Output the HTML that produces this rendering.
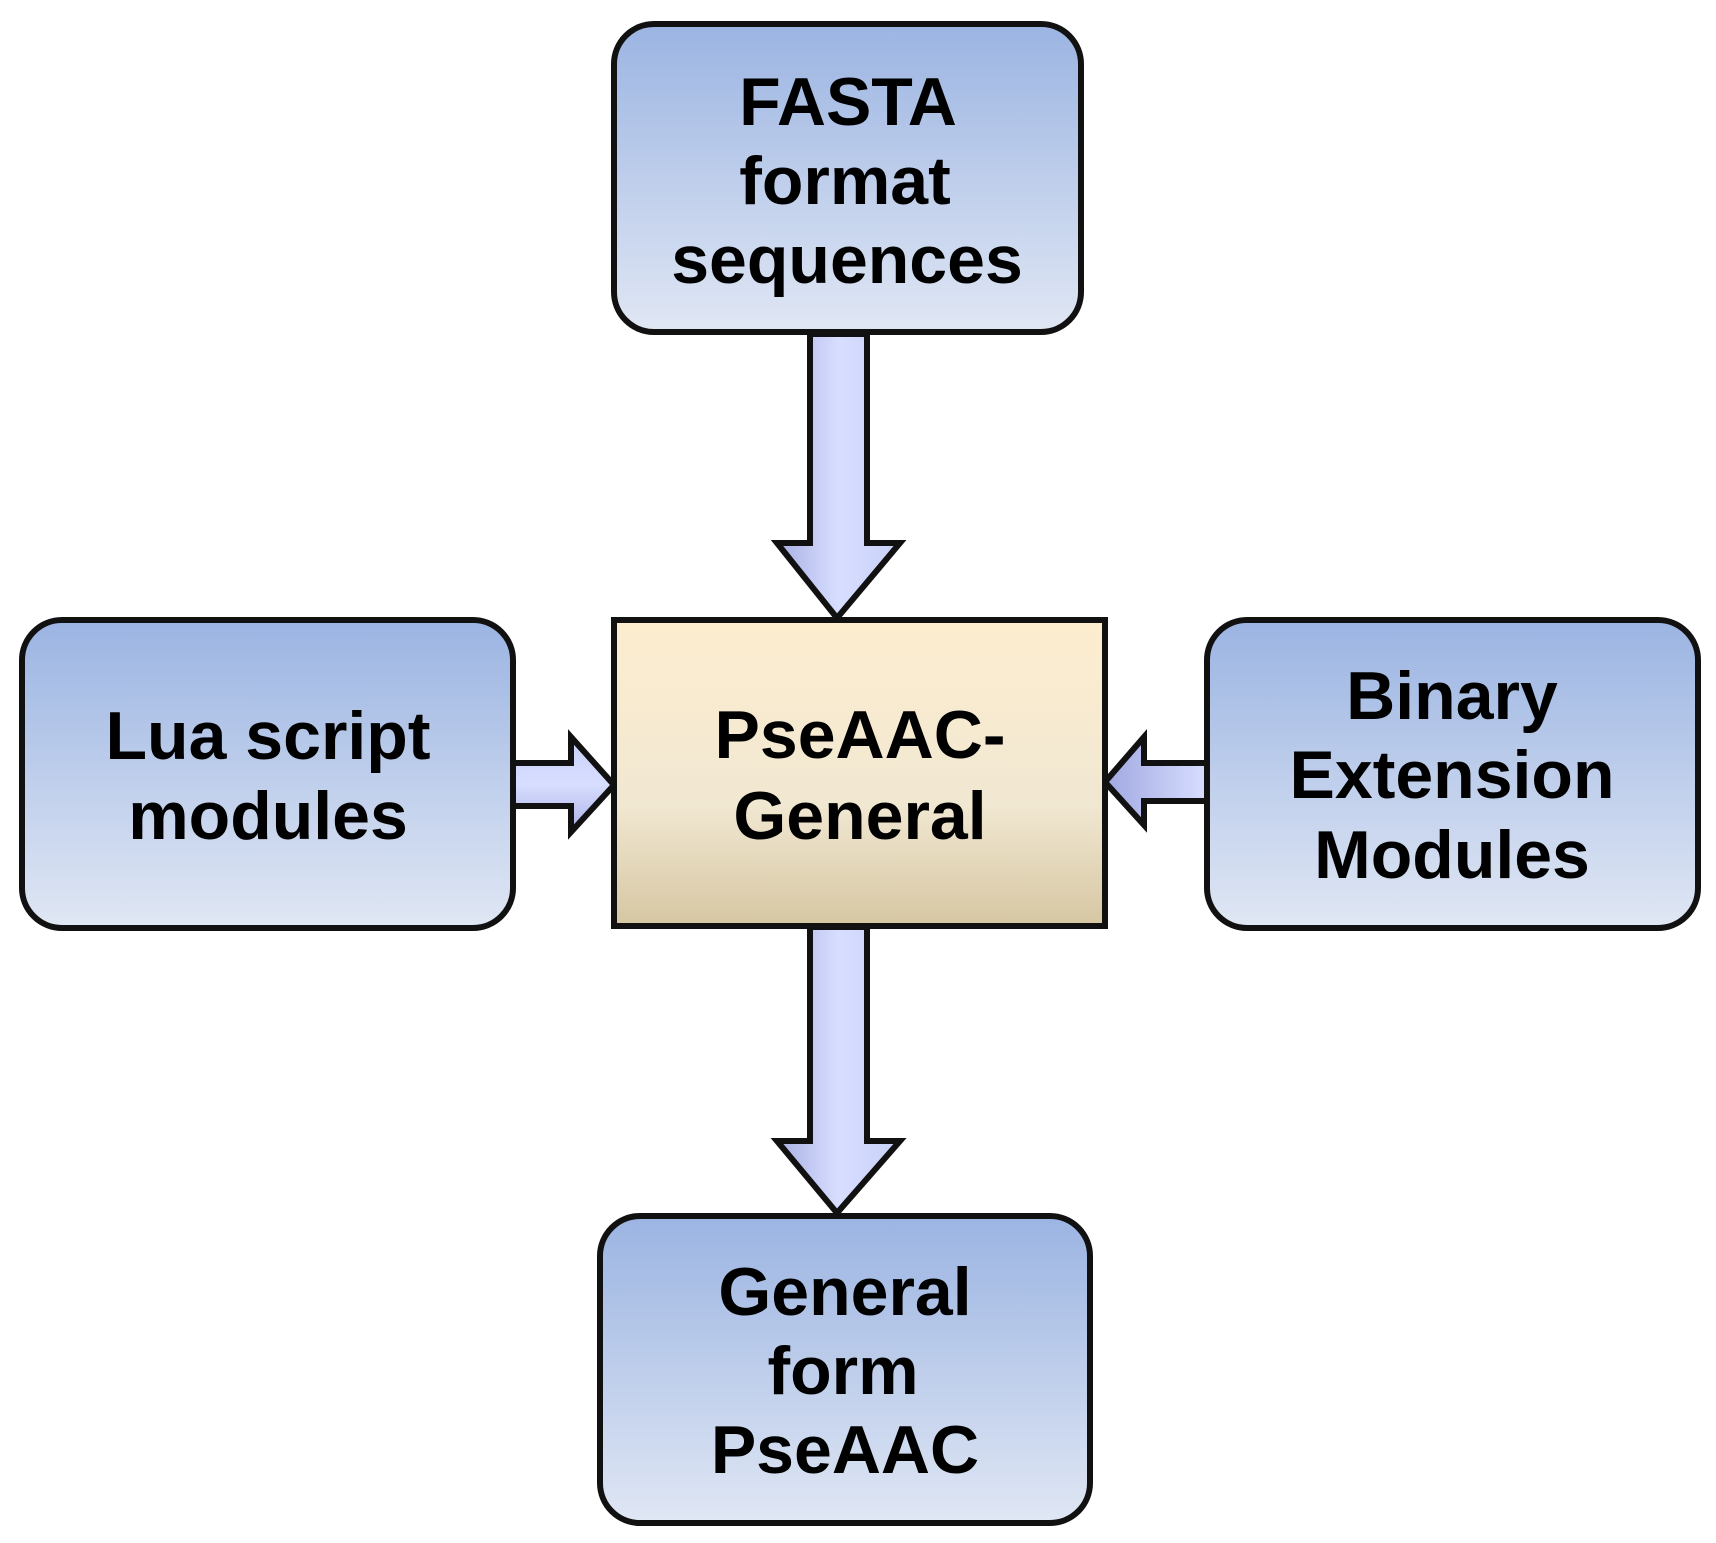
<!DOCTYPE html>
<html><head><meta charset="utf-8"><style>
html,body{margin:0;padding:0;background:#fff;}
svg{display:block;}
text{font-family:"Liberation Sans",sans-serif;font-weight:bold;font-size:68px;fill:#000;text-anchor:middle;}
</style></head><body>
<svg width="1716" height="1543" viewBox="0 0 1716 1543" xmlns="http://www.w3.org/2000/svg">
<defs>
<linearGradient id="blue" x1="0" y1="0" x2="0" y2="1">
<stop offset="0" stop-color="#9bb4e2"/><stop offset="1" stop-color="#e0e7f4"/></linearGradient>
<linearGradient id="tan" x1="0" y1="0" x2="0" y2="1">
<stop offset="0" stop-color="#fdedcf"/><stop offset="0.6" stop-color="#f1e8d2"/><stop offset="1" stop-color="#d6c6a2"/></linearGradient>
<linearGradient id="av" x1="0" y1="0" x2="1" y2="0">
<stop offset="0" stop-color="#a9b0e4"/><stop offset="0.5" stop-color="#d8deff"/><stop offset="1" stop-color="#c8d0f8"/></linearGradient>
<linearGradient id="ah" x1="0" y1="0" x2="0" y2="1">
<stop offset="0" stop-color="#c8d0f8"/><stop offset="0.5" stop-color="#d8deff"/><stop offset="1" stop-color="#a9b0e4"/></linearGradient>
<linearGradient id="ahr" x1="1" y1="0" x2="0" y2="0">
<stop offset="0" stop-color="#d8deff"/><stop offset="1" stop-color="#a0a8e0"/></linearGradient>
</defs>
<g stroke="#111" stroke-width="6" stroke-linejoin="miter">
<polygon points="810,334 867,334 867,543 900,543 837,618 777,543 810,543" fill="url(#av)"/>
<polygon points="810,927 867,927 867,1141 900,1141 837,1213 777,1141 810,1141" fill="url(#av)"/>
<polygon points="513,763 571,763 571,737 614,785 571,832 571,806 513,806" fill="url(#ah)"/>
<polygon points="1207,763 1144,763 1144,737 1105,782 1144,825 1144,801 1207,801" fill="url(#ahr)"/>
<rect x="614" y="24" width="467" height="308" rx="40" fill="url(#blue)"/>
<rect x="22" y="620" width="491" height="308" rx="40" fill="url(#blue)"/>
<rect x="1207" y="620" width="491" height="308" rx="40" fill="url(#blue)"/>
<rect x="600" y="1216" width="490" height="307" rx="40" fill="url(#blue)"/>
<rect x="614" y="620" width="491" height="306" fill="url(#tan)"/>
</g>
<text x="848" y="125">FASTA</text>
<text x="845" y="204">format</text>
<text x="847" y="283">sequences</text>
<text x="268" y="759">Lua script</text>
<text x="268" y="839">modules</text>
<text x="860" y="758">PseAAC-</text>
<text x="860" y="839">General</text>
<text x="1452" y="719">Binary</text>
<text x="1452" y="798">Extension</text>
<text x="1452" y="878">Modules</text>
<text x="845" y="1315">General</text>
<text x="843" y="1394">form</text>
<text x="845" y="1473">PseAAC</text>
</svg>
</body></html>
